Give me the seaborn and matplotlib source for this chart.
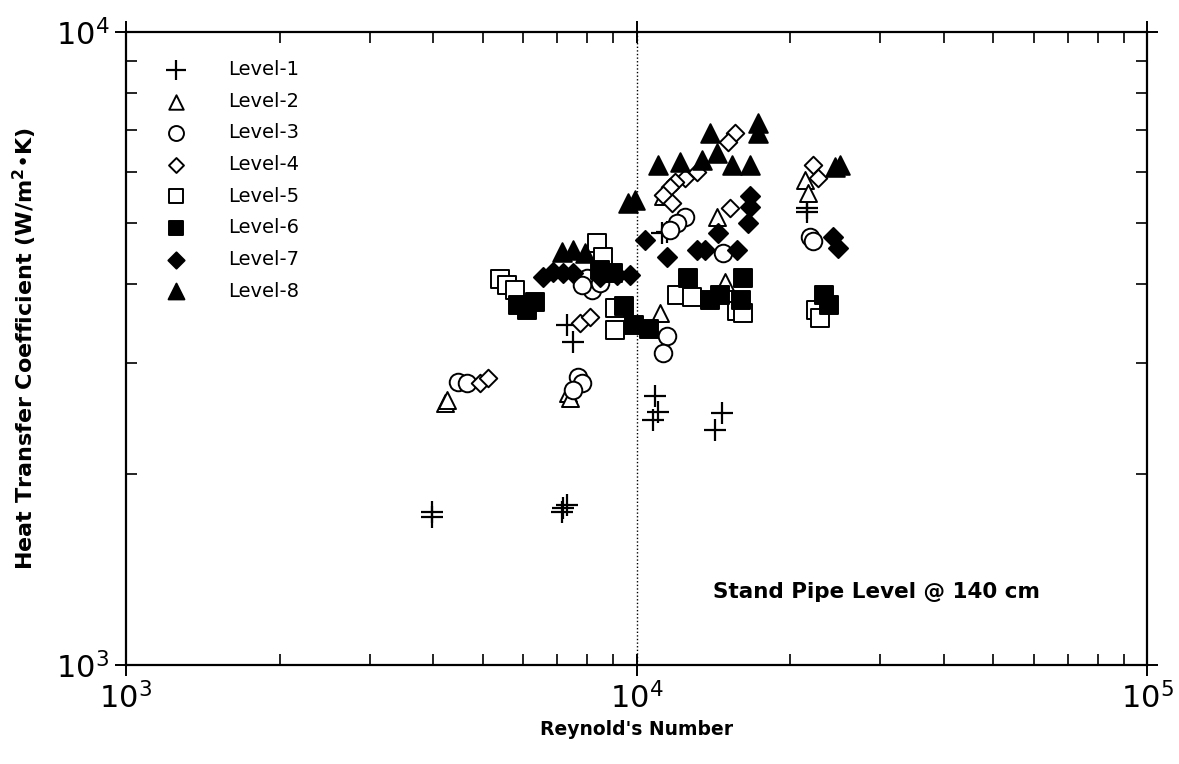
import matplotlib
matplotlib.use("Agg")
import matplotlib.pyplot as plt
import seaborn as sns
import pandas as pd
from matplotlib.ticker import LogLocator, LogFormatterMathtext, NullFormatter

# Reynolds number and heat transfer coefficient (W/m^2.K) for each level
level_1_re = [3980, 3980, 7180, 7310, 7150, 7310, 7510, 10870, 11000, 10770, 14710, 14250, 11220, 11470, 21580, 21580]
level_1_h = [1745, 1714, 1768, 1790, 1745, 3445, 3239, 2660, 2510, 2438, 2500, 2351, 4812, 4830, 5275, 5193]

level_2_re = [4217, 4260, 7343, 7408, 11120, 14380, 14910, 11250, 21380, 21650]
level_2_h = [2594, 2620, 2690, 2640, 3598, 5100, 4030, 5500, 5837, 5567]

level_3_re = [4470, 4656, 7680, 7820, 7508, 8000, 8180, 7820, 8481, 11470, 11250, 12450, 12000, 11630, 14740, 21880, 22170]
level_3_h = [2799, 2790, 2851, 2790, 2719, 4087, 3912, 3983, 4013, 3310, 3112, 5100, 4990, 4864, 4474, 4742, 4670]

level_4_re = [4937, 5119, 7750, 8107, 15590, 15110, 13140, 12450, 11900, 11630, 11250, 11730, 15250, 22170, 22680]
level_4_h = [2790, 2840, 3470, 3546, 6925, 6702, 6009, 5880, 5794, 5690, 5526, 5367, 5275, 6165, 5880]

level_5_re = [5403, 5573, 5781, 8366, 8600, 9077, 9077, 12000, 12840, 15740, 16170, 22450, 22880]
level_5_h = [4073, 3983, 3912, 4642, 4410, 3664, 3381, 3842, 3814, 3624, 3598, 3637, 3530]

level_6_re = [5861, 6327, 6103, 8481, 8995, 9470, 9890, 10600, 12600, 16170, 14570, 13930, 16030, 23300, 23810]
level_6_h = [3705, 3745, 3637, 4207, 4160, 3690, 3440, 3400, 4087, 4087, 3842, 3773, 3773, 3842, 3705]

level_7_re = [6559, 6863, 7178, 7508, 8481, 9158, 9712, 10390, 11470, 13140, 13620, 14420, 15770, 16690, 16690, 16540, 24260, 24810]
level_7_h = [4102, 4176, 4160, 4160, 4102, 4131, 4131, 4691, 4410, 4523, 4523, 4812, 4523, 5500, 5289, 4990, 4742, 4556]

level_8_re = [7147, 7508, 7927, 9625, 9933, 13930, 17300, 17300, 11000, 12170, 13440, 14380, 15390, 16690, 25040, 24480]
level_8_h = [4490, 4523, 4474, 5367, 5426, 6925, 7181, 6925, 6165, 6240, 6277, 6438, 6165, 6165, 6165, 6130]

level_names = ["Level-1", "Level-2", "Level-3", "Level-4", "Level-5", "Level-6", "Level-7", "Level-8"]
level_re = [level_1_re, level_2_re, level_3_re, level_4_re, level_5_re, level_6_re, level_7_re, level_8_re]
level_h = [level_1_h, level_2_h, level_3_h, level_4_h, level_5_h, level_6_h, level_7_h, level_8_h]

# marker, face colour, marker area
level_style = [
    ("+", "black", 260),
    ("^", "white", 150),
    ("o", "white", 160),
    ("D", "white", 80),
    ("s", "white", 160),
    ("s", "black", 160),
    ("D", "black", 95),
    ("^", "black", 180),
]

sns.set_style("ticks")
plt.rcParams["font.family"] = ["DejaVu Sans"]
plt.rcParams["mathtext.fontset"] = "dejavusans"
plt.rcParams["text.color"] = "black"
plt.rcParams["axes.labelcolor"] = "black"
plt.rcParams["xtick.color"] = "black"
plt.rcParams["ytick.color"] = "black"

fig = plt.figure(figsize=(11.79, 7.64), dpi=100)
ax = fig.add_axes([126 / 1179, 99 / 764, 1021 / 1179, 633 / 764])

for name, xs, ys, (mk, fc, s) in zip(level_names, level_re, level_h, level_style):
    df = pd.DataFrame({"Re": xs, "h": ys})
    if mk == "+":
        sns.scatterplot(data=df, x="Re", y="h", marker="+", s=s, color="black",
                        linewidth=1.6, ax=ax, label=name, zorder=3)
    else:
        sns.scatterplot(data=df, x="Re", y="h", marker=mk, s=s, facecolor=fc,
                        edgecolor="black", linewidth=1.4, ax=ax, label=name, zorder=3)

ax.set_xscale("log")
ax.set_yscale("log")
ax.set_xlim(1e3, 1e5)
ax.set_ylim(1e3, 1e4)

ax.axvline(1e4, color="black", linestyle=(0, (1, 1.6)), linewidth=1.0, zorder=1)

ax.xaxis.set_major_locator(LogLocator(base=10))
ax.yaxis.set_major_locator(LogLocator(base=10))
ax.xaxis.set_minor_locator(LogLocator(base=10, subs=range(2, 10)))
ax.yaxis.set_minor_locator(LogLocator(base=10, subs=range(2, 10)))
ax.xaxis.set_major_formatter(LogFormatterMathtext())
ax.yaxis.set_major_formatter(LogFormatterMathtext())
ax.xaxis.set_minor_formatter(NullFormatter())
ax.yaxis.set_minor_formatter(NullFormatter())

for side in ["top", "right", "left", "bottom"]:
    ax.spines[side].set_visible(True)
    ax.spines[side].set_linewidth(1.6)
    ax.spines[side].set_color("black")

ax.tick_params(which="major", direction="inout", length=16, width=1.4,
               top=True, right=True, labelsize=22, pad=4)
ax.tick_params(which="minor", direction="in", length=8, width=1.2,
               top=True, right=True)

ax.set_xlabel("Reynold's Number", fontsize=13.5, fontweight="bold", labelpad=4)
ax.set_ylabel("Heat Transfer Coefficient (W/m$^\\mathbf{2}$\u2022K)", fontsize=16,
              fontweight="bold", labelpad=12)

ax.text(0.735, 0.115, "Stand Pipe Level @ 140 cm", transform=ax.transAxes,
        fontsize=15.5, fontweight="bold", ha="center", va="center")

leg = ax.legend(loc="upper left", bbox_to_anchor=(0.022, 0.968), frameon=False,
                fontsize=14, handletextpad=1.7, labelspacing=0.65, markerscale=0.85,
                borderaxespad=0)

fig.savefig("out.png", dpi=100)
